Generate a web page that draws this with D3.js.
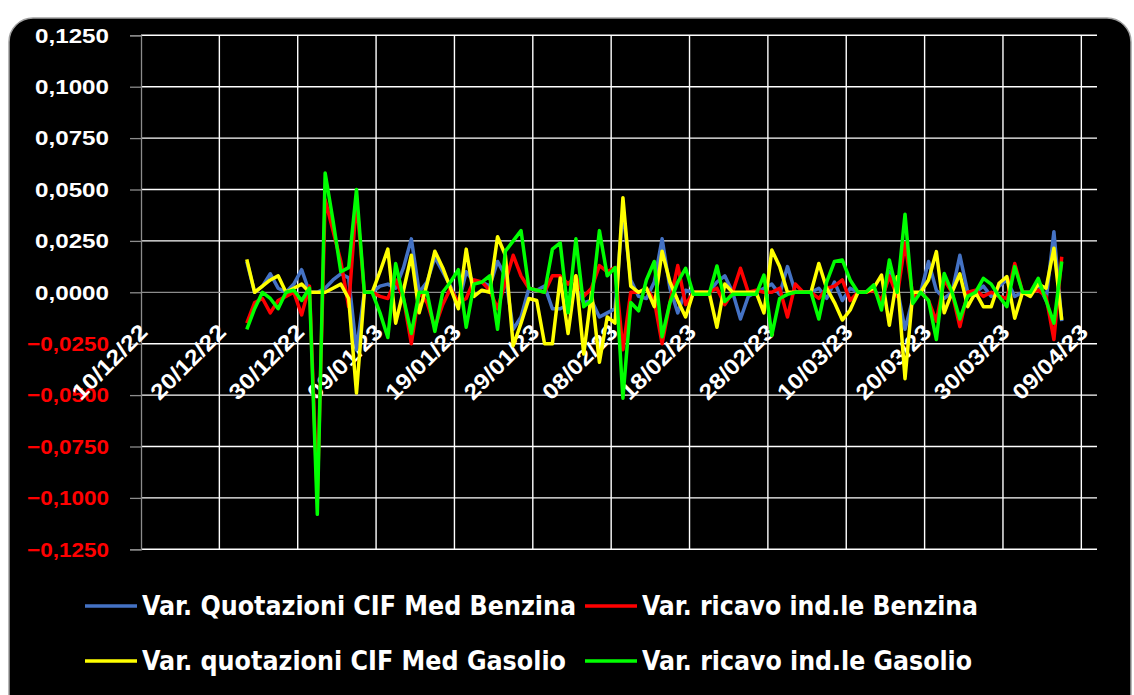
<!DOCTYPE html>
<html>
<head>
<meta charset="utf-8">
<script src="https://cdn.jsdelivr.net/npm/d3@7"></script>
<style>
  html, body { margin: 0; padding: 0; background: #fff; }
  svg { display: block; }
  .grid line { stroke: #fff; stroke-width: 1.4; }
  .axis-lbl { font-family: "Liberation Sans", Arial, sans-serif; font-weight: bold; }
  .legend text { font-family: "Liberation Sans Narrow", "DejaVu Sans Condensed", "Liberation Sans", sans-serif; font-weight: bold; fill: #fff; }
</style>
</head>
<body>
<svg id="chart" width="1134" height="695"></svg>
<script>
// first day with data, one value per calendar day after it
var startDay = "23/12/22";

var seriesNames = [
  "Var. Quotazioni CIF Med Benzina",
  "Var. ricavo ind.le Benzina",
  "Var. quotazioni CIF Med Gasolio",
  "Var. ricavo ind.le Gasolio"
];
var seriesColors = ["#4472c4", "#ff0000", "#ffff00", "#00ff00"];

var quotBenzina = [
  .015, 0, .003, .009, .002, 0, .004, .011, 0, 0, .002, .006, .009, .007, -.028, 0, 0, .003, .004, .002, .012, .026, 0, .005, .017, .010,
  .003, -.006, .010, .005, .005, .003, .015, .008, -.018, -.012, .002, .001, .003, -.008, -.008, -.006, .002, -.005, -.004, -.012, -.010, -.008, .040, .006, -.002, -.003,
  .005, .026, .002, -.010, .001, 0, 0, 0, .005, .008, 0, -.013, -.002, 0, .002, .004, -.001, .0125, 0, 0, 0, .002, -.003, .005, -.004, .002,
  0, 0, .002, -.005, .010, .002, -.018, -.003, 0, .015, .001, -.003, 0, .018, 0, 0, .003, -.002, .003, .006, -.002, 0, 0, .004, -.004, .0295, -.014
];
var ricavoBenzina = [
  -.015, -.005, -.003, -.010, -.004, -.002, 0, -.011, .003, -.100, .045, .030, .015, -.007, .045, 0, 0, -.002, -.003, .006, -.003, -.025, 0, -.005, -.017, -.006,
  .002, -.005, -.003, .006, .005, .001, -.008, .005, .018, .008, .002, .001, 0, .008, .008, .004, .008, -.002, .002, .013, .010, .012, -.028, 0, 0, .002,
  -.004, -.025, -.005, .013, -.006, 0, 0, 0, .002, -.006, 0, .0117, 0, .001, 0, 0, .002, -.012, .004, 0, 0, -.003, .002, .003, .006, -.004,
  0, 0, .001, -.004, .008, -.002, .024, -.002, 0, -.004, -.014, .006, 0, -.0167, 0, .001, -.002, 0, -.002, -.003, .014, 0, 0, .001, -.002, -.023, .0173
];
var quotGasolio = [
  .016, 0, .003, .006, .008, 0, .002, .004, 0, 0, 0, .002, .004, -.003, -.049, 0, 0, .010, .021, -.015, .001, .018, -.010, .004, .020, .012,
  .002, -.008, .021, -.002, .001, 0, .027, .018, -.026, -.015, -.003, -.004, -.025, -.025, .007, -.020, .008, -.030, 0, -.034, -.012, -.015, .046, .003, 0, .002,
  -.007, .020, .005, -.004, -.012, 0, 0, 0, -.017, .004, 0, 0, 0, 0, -.010, .0206, .0125, 0, 0, 0, 0, .014, .002, -.005, -.0135, -.0086,
  0, 0, .002, .0084, -.016, .0076, -.042, 0, 0, .006, .0198, -.010, 0, .009, -.007, 0, -.007, -.007, .0044, .0076, -.0126, 0, -.002, .004, .002, .0214, -.0135
];
var ricavoGasolio = [
  -.018, -.008, 0, -.003, -.008, 0, .001, -.004, .002, -.108, .058, .035, .010, .012, .050, 0, 0, -.010, -.022, .014, -.003, -.020, 0, 0, -.019, 0,
  .005, .011, -.017, .004, .005, .008, -.018, .020, .025, .030, .002, .001, 0, .021, .024, -.010, .026, -.007, -.004, .030, .008, .012, -.0515, -.005, -.009, .006,
  .015, -.0216, -.005, .005, .0117, -.001, -.001, -.001, .0128, -.0045, -.001, -.001, -.001, -.001, .0084, -.021, -.003, -.001, 0, 0, 0, -.013, .005, .015, .0157, .006,
  0, 0, .0036, -.0086, .0157, 0, .038, -.0054, 0, -.004, -.023, .0092, 0, -.013, -.002, 0, .0068, .004, -.002, -.007, .0125, 0, 0, .0068, -.004, -.015, .015
];

var yTicks = [0.125, 0.1, 0.075, 0.05, 0.025, 0, -0.025, -0.05, -0.075, -0.1, -0.125];
var xTickLabels = ["10/12/22", "20/12/22", "30/12/22", "09/01/23", "19/01/23", "29/01/23",
  "08/02/23", "18/02/23", "28/02/23", "10/03/23", "20/03/23", "30/03/23", "09/04/23"];
var xDomain = ["10/12/22", "11/04/23"];

var parse = d3.timeParse("%d/%m/%y");
var svg = d3.select("#chart");

// black chart panel
svg.append("rect")
    .attr("x", 9).attr("y", 18)
    .attr("width", 1122).attr("height", 720)
    .attr("rx", 24).attr("ry", 24)
    .attr("fill", "#000")
    .attr("stroke", "#a0a0a0")
    .attr("stroke-width", 1.5);

var plot = {left: 141, right: 1097, top: 35.3, bottom: 549.3};

var x = d3.scaleTime()
    .domain(xDomain.map(parse))
    .range([plot.left, plot.right]);
var y = d3.scaleLinear()
    .domain([-0.125, 0.125])
    .range([plot.bottom, plot.top]);

// horizontal gridlines
svg.append("g").attr("class", "grid")
  .selectAll("line")
  .data(yTicks.filter(d => d !== 0))
  .enter().append("line")
    .attr("x1", plot.left).attr("x2", plot.right)
    .attr("y1", d => y(d)).attr("y2", d => y(d));

// vertical gridlines
svg.append("g").attr("class", "grid")
  .selectAll("line")
  .data(xTickLabels.slice(1))
  .enter().append("line")
    .attr("x1", d => x(parse(d))).attr("x2", d => x(parse(d)))
    .attr("y1", plot.top).attr("y2", plot.bottom);

// y axis
var yAxis = d3.axisLeft(y)
    .tickValues(yTicks)
    .tickSize(11)
    .tickPadding(21)
    .tickFormat(d => d3.format(".4f")(d).replace(".", ","));
var yg = svg.append("g")
    .attr("transform", `translate(${plot.left},0)`)
    .call(yAxis);
yg.select(".domain").attr("stroke", "#8c8c8c").attr("stroke-width", 1.3);
yg.selectAll(".tick line").attr("stroke", "#8c8c8c").attr("stroke-width", 1.3);
yg.selectAll(".tick text")
    .attr("class", "axis-lbl")
    .attr("fill", d => d < 0 ? "#ff0000" : "#fff")
    .style("font-size", "21px")
    .attr("textLength", d => d < 0 ? 82 : 74)
    .attr("lengthAdjust", "spacingAndGlyphs");

// zero line (category axis)
svg.append("line")
    .attr("x1", plot.left).attr("x2", plot.right)
    .attr("y1", y(0)).attr("y2", y(0))
    .attr("stroke", "#8c8c8c").attr("stroke-width", 1.3);

// date labels
svg.append("g")
  .selectAll("text")
  .data(xTickLabels)
  .enter().append("text")
    .attr("class", "axis-lbl")
    .attr("fill", "#fff")
    .style("font-size", "22px")
    .attr("text-anchor", "end")
    .attr("textLength", 96)
    .attr("lengthAdjust", "spacingAndGlyphs")
    .attr("transform", d => `translate(${x(parse(d)) + 8},${y(0) + 41}) rotate(-45)`)
    .text(d => d);

// series
var start = parse(startDay);
var series = [quotBenzina, ricavoBenzina, quotGasolio, ricavoGasolio].map((vals, k) => ({
  name: seriesNames[k],
  color: seriesColors[k],
  values: vals.map((v, i) => ({date: d3.timeHour.offset(d3.timeDay.offset(start, i), 12), value: v}))
}));

var line = d3.line()
    .x(d => x(d.date))
    .y(d => y(d.value));

svg.append("g")
  .selectAll("path")
  .data(series)
  .enter().append("path")
    .attr("d", d => line(d.values))
    .attr("fill", "none")
    .attr("stroke", d => d.color)
    .attr("stroke-width", 3.5)
    .attr("stroke-linejoin", "round");

// legend
var legendPos = [
  {x: 85, y: 606, w: 434}, {x: 585, y: 606, w: 336},
  {x: 85, y: 661, w: 424}, {x: 585, y: 661, w: 330}
];
var lg = svg.append("g").attr("class", "legend")
  .selectAll("g")
  .data(series)
  .enter().append("g")
    .attr("transform", (d, i) => `translate(${legendPos[i].x},${legendPos[i].y})`);
lg.append("line")
    .attr("x1", 0).attr("x2", 52)
    .attr("stroke", d => d.color)
    .attr("stroke-width", 3.5);
lg.append("text")
    .attr("x", 57).attr("y", 9)
    .style("font-size", "26px")
    .attr("textLength", (d, i) => legendPos[i].w)
    .attr("lengthAdjust", "spacingAndGlyphs")
    .text(d => d.name);
</script>
</body>
</html>
